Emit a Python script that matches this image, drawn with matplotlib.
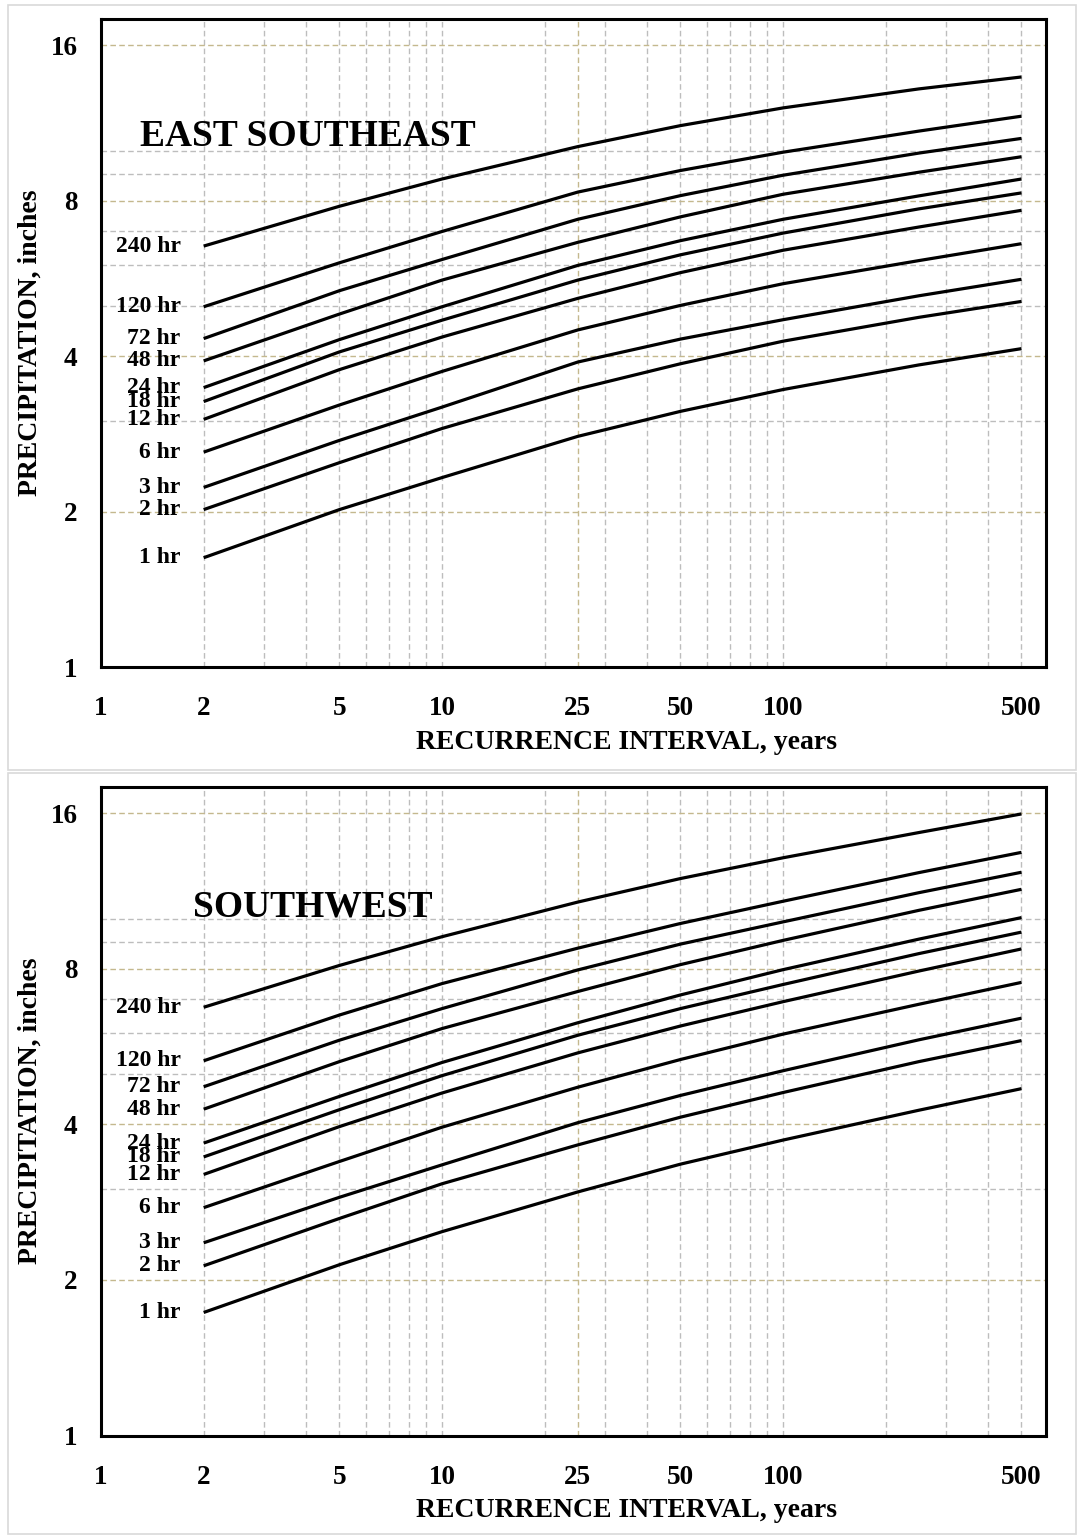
import matplotlib
matplotlib.use('Agg')
import matplotlib.pyplot as plt
from matplotlib.patches import Rectangle
from matplotlib.ticker import NullLocator, NullFormatter, FixedLocator, FixedFormatter

plt.rcParams['font.family'] = ['Liberation Serif', 'DejaVu Serif']
plt.rcParams['font.weight'] = 'bold'
plt.rcParams['lines.scale_dashes'] = False

# ---------------- data ----------------
recurrence_years = [2, 5, 10, 25, 50, 100, 250, 500]
duration_labels = ['1 hr', '2 hr', '3 hr', '6 hr', '12 hr', '18 hr',
                   '24 hr', '48 hr', '72 hr', '120 hr', '240 hr']

# East Southeast (inches)
ese_1hr = [1.63, 2.02, 2.33, 2.80, 3.13, 3.45, 3.85, 4.14]
ese_2hr = [2.02, 2.49, 2.90, 3.46, 3.87, 4.28, 4.76, 5.11]
ese_3hr = [2.23, 2.75, 3.19, 3.90, 4.32, 4.71, 5.24, 5.64]
ese_6hr = [2.61, 3.22, 3.74, 4.50, 5.02, 5.53, 6.13, 6.61]
ese_12hr = [3.02, 3.77, 4.36, 5.18, 5.81, 6.42, 7.12, 7.67]
ese_18hr = [3.27, 4.08, 4.70, 5.62, 6.29, 6.93, 7.72, 8.29]
ese_24hr = [3.48, 4.31, 4.99, 6.00, 6.70, 7.37, 8.18, 8.82]
ese_48hr = [3.92, 4.83, 5.62, 6.65, 7.45, 8.24, 9.09, 9.74]
ese_72hr = [4.33, 5.36, 6.16, 7.37, 8.19, 8.97, 9.90, 10.57]
ese_120hr = [4.99, 6.07, 6.98, 8.32, 9.16, 9.94, 10.92, 11.67]
ese_240hr = [6.54, 7.81, 8.82, 10.19, 11.19, 12.11, 13.18, 13.90]

# Southwest (inches)
sw_1hr = [1.73, 2.14, 2.48, 2.96, 3.35, 3.73, 4.26, 4.69]
sw_2hr = [2.13, 2.63, 3.07, 3.65, 4.13, 4.61, 5.29, 5.81]
sw_3hr = [2.36, 2.89, 3.34, 4.03, 4.55, 5.08, 5.83, 6.42]
sw_6hr = [2.76, 3.39, 3.95, 4.72, 5.34, 5.98, 6.83, 7.53]
sw_12hr = [3.20, 3.96, 4.60, 5.50, 6.20, 6.91, 7.92, 8.74]
sw_18hr = [3.46, 4.27, 4.97, 5.95, 6.70, 7.46, 8.56, 9.42]
sw_24hr = [3.68, 4.53, 5.27, 6.29, 7.12, 7.97, 9.13, 10.05]
sw_48hr = [4.28, 5.29, 6.13, 7.23, 8.15, 9.08, 10.38, 11.40]
sw_72hr = [4.73, 5.82, 6.70, 7.96, 8.93, 9.86, 11.23, 12.30]
sw_120hr = [5.31, 6.51, 7.49, 8.77, 9.79, 10.81, 12.28, 13.44]
sw_240hr = [6.74, 8.12, 9.23, 10.77, 11.96, 13.12, 14.68, 15.95]

ese_series = [ese_1hr, ese_2hr, ese_3hr, ese_6hr, ese_12hr, ese_18hr,
              ese_24hr, ese_48hr, ese_72hr, ese_120hr, ese_240hr]
sw_series = [sw_1hr, sw_2hr, sw_3hr, sw_6hr, sw_12hr, sw_18hr,
             sw_24hr, sw_48hr, sw_72hr, sw_120hr, sw_240hr]

x_tick_values = [1, 2, 5, 10, 25, 50, 100, 500]
x_tick_labels = ['1', '2', '5', '10', '25', '50', '100', '500']
y_tick_values = [1, 2, 4, 8, 16]
y_tick_labels = ['1', '2', '4', '8', '16']

grid_x_gray = [2, 3, 4, 5, 6, 7, 8, 9, 10, 20, 30, 40, 50, 60, 70, 80, 90,
               100, 200, 300, 400, 500]
grid_x_tan = [25]
grid_y_gray = [3, 5, 6, 7, 9, 10]
grid_y_tan = [2, 4, 8, 16]

# ---------------- figure ----------------
W, H = 1083, 1536
fig = plt.figure(figsize=(W / 100, H / 100), dpi=100)

GRAY = '#bdbdbd'
TAN = '#c4b88e'
DASH = (0, (4.0, 2.4))


def px_ax(left, top, right, bottom):
    return [left / W, 1 - bottom / H, (right - left) / W, (bottom - top) / H]


# panel borders
for (l, t, r, b) in [(8, 5, 1076, 770), (8, 773, 1076, 1534)]:
    fig.patches.append(Rectangle((l / W, 1 - b / H), (r - l) / W, (b - t) / H,
                                 transform=fig.transFigure, fill=False,
                                 edgecolor='#d9d9d9', linewidth=1.2, zorder=0))

panels = [
    dict(rect=px_ax(101, 19, 1046, 667.3), series=ese_series,
         title='EAST SOUTHEAST', title_xy=(0.0413, 0.818)),
    dict(rect=px_ax(101, 786.8, 1046, 1435.5), series=sw_series,
         title='SOUTHWEST', title_xy=(0.0974, 0.814)),
]

for p in panels:
    ax = fig.add_axes(p['rect'])
    ax.set_xscale('log')
    ax.set_yscale('log')
    ax.set_xlim(1, 590)
    ax.set_ylim(1, 18)

    for gx in grid_x_gray:
        ax.axvline(gx, color=GRAY, lw=1.0, ls=DASH, zorder=1)
    for gx in grid_x_tan:
        ax.axvline(gx, color=TAN, lw=1.0, ls=DASH, zorder=1.5)
    for gy in grid_y_gray:
        ax.axhline(gy, color=GRAY, lw=1.0, ls=DASH, zorder=1)
    for gy in grid_y_tan:
        ax.axhline(gy, color=TAN, lw=1.0, ls=DASH, zorder=1.5)

    for lab, vals in zip(duration_labels, p['series']):
        ax.plot(recurrence_years, vals, color='black', lw=2.3,
                solid_capstyle='butt', solid_joinstyle='round', zorder=3)
        ax.annotate(lab, xy=(recurrence_years[0], vals[0]),
                    xytext=(-23, 0), textcoords='offset pixels',
                    ha='right', va='center', fontsize=17,
                    fontweight='bold', annotation_clip=False)

    ax.xaxis.set_major_locator(FixedLocator(x_tick_values))
    ax.xaxis.set_major_formatter(FixedFormatter(x_tick_labels))
    ax.yaxis.set_major_locator(FixedLocator(y_tick_values))
    ax.yaxis.set_major_formatter(FixedFormatter(y_tick_labels))
    for axis in (ax.xaxis, ax.yaxis):
        axis.set_minor_locator(NullLocator())
        axis.set_minor_formatter(NullFormatter())
    ax.tick_params(axis='x', length=0, pad=21, labelsize=19.5)
    ax.tick_params(axis='y', length=0, pad=17, labelsize=19.5)
    for lbl in ax.get_xticklabels() + ax.get_yticklabels():
        lbl.set_fontweight('bold')

    for sp in ax.spines.values():
        sp.set_linewidth(2.2)
        sp.set_color('black')
        sp.set_zorder(4)

    ax.text(p['title_xy'][0], p['title_xy'][1], p['title'],
            transform=ax.transAxes, ha='left', va='center',
            fontsize=27, fontweight='bold', zorder=5)

    # axis titles
    l, b, w, h = p['rect']
    fig.text(626 / W, b - 75 / H, 'RECURRENCE INTERVAL, years',
             ha='center', va='center', fontsize=20, fontweight='bold')
    fig.text(30 / W, b + h / 2, 'PRECIPITATION, inches', rotation=90,
             ha='center', va='center', fontsize=20, fontweight='bold')

fig.savefig('out.png', dpi=100, facecolor='white')
